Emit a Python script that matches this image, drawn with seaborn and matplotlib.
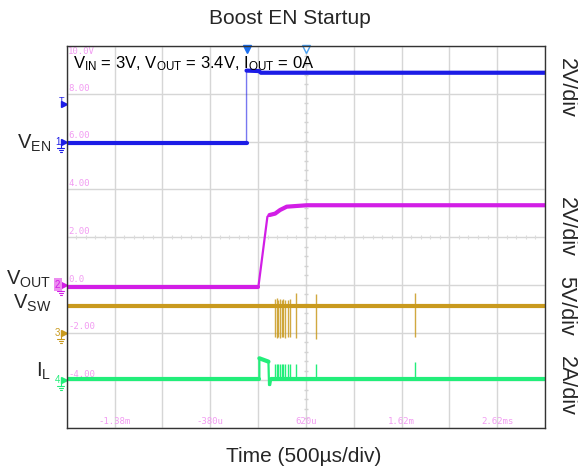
import numpy as np
import pandas as pd
import matplotlib
matplotlib.use("Agg")
import matplotlib.pyplot as plt
import seaborn as sns
from matplotlib.transforms import blended_transform_factory

# ---------------- data (time in ms, values on the 2 V/div screen scale) ----------------
ven_t = [-1.88, 0.0, 0.0, 0.13, 0.15, 3.12]
ven_v = [5.92, 5.92, 8.97, 8.95, 8.88, 8.88]

vout_t = [-1.88, 0.124, 0.218, 0.24, 0.299, 0.35, 0.42, 0.63, 3.12]
vout_v = [-0.08, -0.08, 2.85, 2.92, 2.98, 3.13, 3.27, 3.33, 3.33]

vsw_t = [-1.88, 3.12]
vsw_v = [-0.88, -0.88]
vsw_spike_t = [0.299, 0.317, 0.333, 0.351, 0.369, 0.386, 0.404, 0.438, 0.456, 0.519, 0.728, 1.756]
vsw_spike_lo = [-2.18, -2.22, -2.2, -2.23, -2.2, -2.18, -2.22, -2.2, -2.2, -2.25, -2.28, -2.18]
vsw_spike_hi = [-0.6, -0.56, -0.62, -0.58, -0.65, -0.6, -0.62, -0.64, -0.6, -0.36, -0.4, -0.36]

il_t = [-1.88, 0.134, 0.134, 0.229, 0.235, 0.247, 0.257, 3.12]
il_v = [-3.96, -3.96, -3.08, -3.22, -4.2, -4.2, -3.96, -3.96]
il_spike_t = [0.299, 0.317, 0.333, 0.351, 0.369, 0.386, 0.404, 0.438, 0.456, 0.519, 0.728, 1.756]
il_spike_hi = [-3.32, -3.3, -3.32, -3.3, -3.32, -3.3, -3.34, -3.3, -3.32, -3.3, -3.3, -3.25]

grid_labels_y = ["10.0V", "8.00", "6.00", "4.00", "2.00", "0.0", "-2.00", "-4.00"]
grid_values_y = [10.0, 8.0, 6.0, 4.0, 2.0, 0.0, -2.0, -4.0]
time_labels = ["-1.38m", "-380u", "620u", "1.62m", "2.62ms"]
time_values = [-1.38, -0.38, 0.62, 1.62, 2.62]

channel_names = ["1", "2", "3", "4"]
channel_levels = [6.0, 0.0, -2.0, -4.0]
trigger_level = 7.57
trigger_time = 0.0
center_time = 0.62

scale_labels = ["2V/div", "2V/div", "5V/div", "2A/div"]
scale_pos_px = [88, 227, 306, 386]

C_EN = "#1c1ce6"
C_OUT = "#d21ee6"
C_SW = "#c99a1e"
C_IL = "#22ee7a"
C_PINK = "#f29cf2"
C_GRID = "#d6d6d6"

# ---------------- figure ----------------
sns.set_style("white")
plt.rcParams["font.family"] = ["Liberation Sans", "DejaVu Sans"]
plt.rcParams["mathtext.default"] = "regular"

W, H = 578, 472
fig = plt.figure(figsize=(W / 100, H / 100), dpi=100)
L, R, T, B = 66.7, 545.0, 46.0, 428.0
ax = fig.add_axes([L / W, 1 - B / H, (R - L) / W, (B - T) / H])

ax.set_xlim(-1.88, 3.12)
ax.set_ylim(-6, 10)
ax.set_xticks([-1.88 + 0.5 * k for k in range(11)])
ax.set_yticks([-6 + 2 * k for k in range(9)])
ax.tick_params(length=0, labelbottom=False, labelleft=False)
ax.grid(True, color=C_GRID, lw=1)
for s in ax.spines.values():
    s.set_color("#333333")
    s.set_linewidth(1)

# center cross minor ticks
mt_y = np.arange(-6, 10.01, 0.4)
ax.hlines(mt_y, center_time - 0.022, center_time + 0.022, color="#d2d2d2", lw=1, zorder=1)
mt_x = np.arange(-1.88, 3.121, 0.1)
ax.vlines(mt_x, 2.0 - 0.08, 2.0 + 0.08, color="#dcdcdc", lw=0.8, zorder=1)

# pink scope labels
for lab, v in zip(grid_labels_y, grid_values_y):
    ax.text(-1.865, v - (0.05 if v == 10 else -0.05), lab, color=C_PINK, fontsize=6.5,
            family="DejaVu Sans Mono", va="top" if v == 10 else "bottom", ha="left", zorder=2)
for lab, t in zip(time_labels, time_values):
    ax.text(t, -5.93, lab, color=C_PINK, fontsize=6.5, family="DejaVu Sans Mono",
            ha="center", va="bottom", zorder=2)

# ---------------- traces ----------------
df_en = pd.DataFrame({"t": ven_t, "v": ven_v})
df_out = pd.DataFrame({"t": vout_t, "v": vout_v})
df_sw = pd.DataFrame({"t": vsw_t, "v": vsw_v})
df_il = pd.DataFrame({"t": il_t, "v": il_v})

# VEN: thin edge, thick levels
sns.lineplot(data=df_en, x="t", y="v", sort=False, estimator=None, color=C_EN, lw=1, alpha=0.6, ax=ax)
sns.lineplot(data=df_en.iloc[:2], x="t", y="v", sort=False, estimator=None, color=C_EN, lw=3, ax=ax)
sns.lineplot(data=df_en.iloc[2:], x="t", y="v", sort=False, estimator=None, color=C_EN, lw=3, ax=ax)

# VOUT
sns.lineplot(data=df_out, x="t", y="v", sort=False, estimator=None, color=C_OUT, lw=1.6, ax=ax)
sns.lineplot(data=df_out.iloc[:2], x="t", y="v", sort=False, estimator=None, color=C_OUT, lw=3, ax=ax)
sns.lineplot(data=df_out.iloc[3:], x="t", y="v", sort=False, estimator=None, color=C_OUT, lw=3, ax=ax)

# VSW
ax.vlines(vsw_spike_t, vsw_spike_lo, vsw_spike_hi, color=C_SW, lw=1, alpha=0.85)
sns.lineplot(data=df_sw, x="t", y="v", sort=False, estimator=None, color=C_SW, lw=3, ax=ax)

# IL
ax.vlines(il_spike_t, [-3.96] * len(il_spike_t), il_spike_hi, color=C_IL, lw=1)
sns.lineplot(data=df_il, x="t", y="v", sort=False, estimator=None, color=C_IL, lw=1.6, ax=ax)
sns.lineplot(data=df_il.iloc[[0, 1]], x="t", y="v", sort=False, estimator=None, color=C_IL, lw=3, ax=ax)
sns.lineplot(data=df_il.iloc[[2, 3]], x="t", y="v", sort=False, estimator=None, color=C_IL, lw=3, ax=ax)
sns.lineplot(data=df_il.iloc[[6, 7]], x="t", y="v", sort=False, estimator=None, color=C_IL, lw=3, ax=ax)
ax.set_xlabel("")
ax.set_ylabel("")

# ---------------- scope markers ----------------
tr = blended_transform_factory(ax.transAxes, ax.transData)
px = 1 / (R - L)          # one pixel in axes-x units
py = 16 / (B - T)         # one pixel in data-y units
ch_colors = [C_EN, C_OUT, C_SW, C_IL]
for name, lev, c in zip(channel_names, channel_levels, ch_colors):
    ax.plot([-3 * px], [lev], marker=">", ms=5, color=c, transform=tr, clip_on=False)
    bbox = dict(boxstyle="square,pad=0.15", fc="#ec8cf0", ec="none") if name == "2" else None
    ax.text(-9 * px, lev, name, color=c, fontsize=7, ha="center", va="center",
            transform=tr, bbox=bbox)
    # ground symbol
    ax.plot([-6 * px, -6 * px], [lev - 1 * py, lev - 6 * py], color=c, lw=0.8, transform=tr, clip_on=False)
    for k, w in zip([6, 8, 10], [3.5, 2.2, 1.0]):
        ax.plot([(-6 - w) * px, (-6 + w) * px], [lev - k * py] * 2, color=c, lw=0.8,
                transform=tr, clip_on=False)
ax.plot([-3 * px], [trigger_level], marker=">", ms=5, color=C_EN, transform=tr, clip_on=False)
ax.text(-5 * px, trigger_level + 4 * py, "T", color=C_EN, fontsize=6.5, ha="center", va="center",
        transform=tr)

trt = blended_transform_factory(ax.transData, ax.transAxes)
ax.plot([trigger_time], [1 - 3 * py / 16], marker="v", ms=6, color="#1a6ff0", transform=trt, clip_on=False)
ax.plot([center_time], [1 - 3 * py / 16], marker="v", ms=6, mfc="white", mec="#4aa0f0",
        transform=trt, clip_on=False)

# ---------------- text ----------------
ax.text((73 - L) * px, 1 - (68.3 - T) / (B - T),
        r"$V_{IN}$ = 3V, $V_{OUT}$ = 3.4V, $I_{OUT}$ = 0A", transform=ax.transAxes,
        fontsize=12, ha="left", va="baseline", color="black", zorder=5)

fig.text(290 / W, 1 - 18 / H, "Boost EN Startup", fontsize=15, ha="center", va="center")
fig.text(304 / W, 1 - 457 / H, "Time (500µs/div)", fontsize=15, ha="center", va="center")

for lab, ypx in zip(scale_labels, scale_pos_px):
    fig.text(566 / W, 1 - ypx / H, lab, fontsize=15.5, rotation=270, ha="center", va="center")

left_labels = [r"$V_{EN}$", r"$V_{OUT}$", r"$V_{SW}$", r"$I_L$"]
left_base_px = [148.3, 285.0, 308.3, 376.7]
for lab, ypx in zip(left_labels, left_base_px):
    fig.text(51 / W, 1 - ypx / H, lab, fontsize=14.5, ha="right", va="baseline")

fig.savefig("out.png", dpi=100)
